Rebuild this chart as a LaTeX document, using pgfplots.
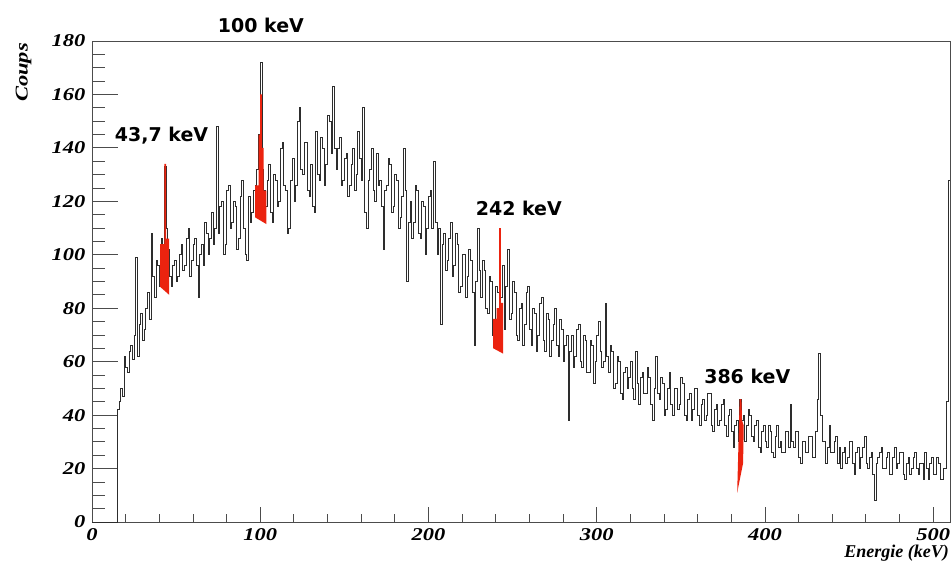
\documentclass[border=0pt]{standalone}
\usepackage{pgfplots}
\pgfplotsset{compat=1.18}
\usepackage{fontspec}
\setmainfont{Liberation Serif}
\newfontfamily\lblfont{DejaVu Sans}
\definecolor{pk}{RGB}{235,35,15}
\definecolor{histline}{RGB}{45,45,45}

\pgfplotsset{
  common/.style={
    scale only axis, width=858pt, height=481pt,
    xmin=0, xmax=510, ymin=0, ymax=180,
    tick align=inside, xtick pos=left, ytick pos=left,
    tick style={black!70, line width=0.8pt},
    /pgf/number format/assume math mode=true,
    ticklabel style={font=\fontsize{18}{18}\selectfont\bfseries\itshape, xscale=1.25},
    yticklabel style={anchor=east, inner sep=0pt, xshift=-5pt},
    xticklabel style={anchor=north, inner sep=0pt, yshift=-6pt},
  }
}

\begin{document}
\begin{tikzpicture}
\begin{axis}[
  common,
  axis line style={black!70, line width=0.8pt},
  xtick=\empty, ytick={0,20,...,180}, minor y tick num=3,
  major tick length=26pt, minor tick length=13pt,
  clip=false,
]
\addplot[const plot, color=histline, line width=0.75pt] coordinates {
(0,0)
(15,42) (16,45) (17,50) (18,47) (19,62) (20,58) (21,56) (22,64) (23,66) (24,61)
(25,70) (26,99) (27,62) (28,74) (29,78) (30,68) (31,72) (32,80) (33,86) (34,76)
(35,108) (36,92) (37,84) (38,98) (39,96) (40,88) (41,106) (42,100) (43,133) (44,110)
(45,102) (46,92) (47,88) (48,96) (49,98) (50,90) (51,92) (52,100) (53,104) (54,94)
(55,96) (56,106) (57,110) (58,92) (59,98) (60,104) (61,106) (62,96) (63,84) (64,100)
(65,104) (66,96) (67,112) (68,108) (69,100) (70,106) (71,116) (72,104) (73,110) (74,148)
(75,108) (76,118) (77,120) (78,100) (79,104) (80,124) (81,126) (82,110) (83,112) (84,120)
(85,118) (86,102) (87,106) (88,122) (89,128) (90,110) (91,100) (92,98) (93,122) (94,112)
(95,116) (96,124) (97,126) (98,132) (99,145) (100,172) (101,132) (102,124) (103,118) (104,128)
(105,134) (106,116) (107,112) (108,130) (109,128) (110,118) (111,120) (112,140) (113,142) (114,126)
(115,124) (116,108) (117,110) (118,128) (119,136) (120,120) (121,126) (122,150) (123,155) (124,132)
(125,130) (126,142) (127,142) (128,124) (129,122) (130,134) (131,118) (132,116) (133,146) (134,130)
(135,128) (136,144) (137,140) (138,126) (139,134) (140,152) (141,150) (142,138) (143,163) (144,140)
(145,132) (146,140) (147,144) (148,126) (149,128) (150,136) (151,138) (152,122) (153,126) (154,134)
(155,140) (156,124) (157,130) (158,146) (159,136) (160,128) (161,155) (162,116) (163,110) (164,128)
(165,132) (166,140) (167,124) (168,120) (169,138) (170,126) (171,128) (172,118) (173,102) (174,124)
(175,126) (176,136) (177,134) (178,116) (179,118) (180,130) (181,128) (182,110) (183,114) (184,122)
(185,140) (186,124) (187,90) (188,112) (189,120) (190,106) (191,112) (192,126) (193,124) (194,108)
(195,106) (196,120) (197,118) (198,100) (199,110) (200,122) (201,124) (202,110) (203,135) (204,112)
(205,100) (206,110) (207,74) (208,104) (209,108) (210,94) (211,98) (212,106) (213,112) (214,92)
(215,96) (216,108) (217,104) (218,86) (219,88) (220,100) (221,100) (222,84) (223,92) (224,102)
(225,98) (226,86) (227,66) (228,90) (229,110) (230,94) (231,84) (232,98) (233,94) (234,80)
(235,78) (236,92) (237,90) (238,70) (239,72) (240,88) (241,86) (242,110) (243,84) (244,96)
(245,72) (246,88) (247,102) (248,76) (249,78) (250,90) (251,86) (252,70) (253,68) (254,80)
(255,82) (256,66) (257,74) (258,86) (259,88) (260,72) (261,66) (262,80) (263,78) (264,64)
(265,70) (266,82) (267,84) (268,68) (269,64) (270,78) (271,76) (272,62) (273,68) (274,74)
(275,80) (276,66) (277,62) (278,76) (279,72) (280,60) (281,66) (282,70) (283,38) (284,64)
(285,70) (286,58) (287,62) (288,72) (289,74) (290,60) (291,58) (292,70) (293,68) (294,56)
(295,56) (296,68) (297,66) (298,52) (299,60) (300,70) (301,75) (302,64) (303,58) (304,60)
(305,82) (306,62) (307,56) (308,66) (309,64) (310,50) (311,52) (312,62) (313,60) (314,48)
(315,46) (316,56) (317,58) (318,50) (319,54) (320,60) (321,50) (322,46) (323,64) (324,52)
(325,44) (326,54) (327,56) (328,48) (329,48) (330,58) (331,54) (332,44) (333,38) (334,50)
(335,62) (336,48) (337,46) (338,54) (339,52) (340,40) (341,42) (342,50) (343,56) (344,44)
(345,40) (346,50) (347,50) (348,42) (349,44) (350,54) (351,52) (352,40) (353,38) (354,46)
(355,48) (356,38) (357,42) (358,50) (359,50) (360,40) (361,36) (362,44) (363,46) (364,38)
(365,40) (366,48) (367,48) (368,36) (369,34) (370,42) (371,44) (372,36) (373,38) (374,44)
(375,46) (376,36) (377,32) (378,40) (379,42) (380,34) (381,28) (382,36) (383,38) (384,30)
(385,46) (386,38) (387,40) (388,30) (389,36) (390,42) (391,40) (392,32) (393,30) (394,36)
(395,38) (396,28) (397,26) (398,34) (399,36) (400,30) (401,28) (402,36) (403,34) (404,26)
(405,24) (406,32) (407,36) (408,28) (409,30) (410,26) (411,26) (412,34) (413,34) (414,28)
(415,44) (416,30) (417,28) (418,34) (419,34) (420,24) (421,22) (422,30) (423,30) (424,26)
(425,26) (426,32) (427,32) (428,24) (429,24) (430,34) (431,46) (432,63) (433,40) (434,30)
(435,30) (436,22) (437,28) (438,36) (439,26) (440,26) (441,30) (442,32) (443,22) (444,28)
(445,20) (446,26) (447,28) (448,22) (449,24) (450,30) (451,30) (452,22) (453,18) (454,26)
(455,28) (456,20) (457,24) (458,28) (459,32) (460,22) (461,20) (462,24) (463,26) (464,18)
(465,8) (466,22) (467,24) (468,26) (469,28) (470,20) (471,20) (472,24) (473,26) (474,18)
(475,18) (476,24) (477,28) (478,20) (479,22) (480,26) (481,26) (482,18) (483,16) (484,22)
(485,24) (486,18) (487,20) (488,24) (489,26) (490,20) (491,18) (492,22) (493,22) (494,16)
(495,26) (496,20) (497,16) (498,22) (499,24) (500,18) (501,18) (502,24) (503,22) (504,16)
(505,16) (506,20) (507,20) (508,45) (509,128) (510,128)
};
\addplot[fill=pk, draw=none] coordinates {(40.5,88) (40.5,104) (43,104) (43,134) (44,134) (44,106) (45.9,106) (45.9,85)} -- cycle;
\addplot[fill=pk, draw=none] coordinates {(97,114) (97,126) (99,126) (99,145) (100,145) (100,160) (101,160) (101,140) (102,140) (102,124) (103.6,124) (103.6,111.5)} -- cycle;
\addplot[fill=pk, draw=none] coordinates {(238.5,65) (238.5,76) (240.5,76) (240.5,80) (242,80) (242,110) (243,110) (243,82) (244.4,82) (244.4,63)} -- cycle;
\addplot[fill=pk, draw=none] coordinates {(383.5,11) (384.5,35) (385,46) (386,46) (386.4,38) (387.4,36) (387,22)} -- cycle;
\node[font=\lblfont\fontsize{19}{19}\selectfont\bfseries] at (axis cs:100.4,186) {100 keV};
\node[font=\lblfont\fontsize{19}{19}\selectfont\bfseries] at (axis cs:41.3,144.5) {43,7 keV};
\node[font=\lblfont\fontsize{19}{19}\selectfont\bfseries] at (axis cs:253.7,117.3) {242 keV};
\node[font=\lblfont\fontsize{19}{19}\selectfont\bfseries] at (axis cs:389.5,54.4) {386 keV};
\coordinate (ll) at (rel axis cs:0,0);
\coordinate (ur) at (rel axis cs:1,1);
\coordinate (lr) at (rel axis cs:1,0);
\coordinate (ul) at (rel axis cs:0,1);
\end{axis}
\begin{axis}[
  common,
  axis line style={draw=none},
  ytick=\empty, xtick={0,100,...,500}, minor x tick num=4,
  major tick length=15pt, minor tick length=8pt,
]
\end{axis}
\node[anchor=base east, inner sep=0pt, font=\fontsize{18}{18}\selectfont\bfseries\itshape] at ([xshift=-1pt,yshift=-35pt]lr) {Energie (keV)};
\node[rotate=90, inner sep=0pt, font=\fontsize{18}{18}\selectfont\bfseries\itshape] at ([xshift=-68.5pt,yshift=-31.5pt]ul) {\scalebox{1.25}[1]{Coups}};
\pgfresetboundingbox
\path ([xshift=-92pt,yshift=-50pt]ll) rectangle ([xshift=1pt,yshift=41pt]ur);
\end{tikzpicture}
\end{document}
